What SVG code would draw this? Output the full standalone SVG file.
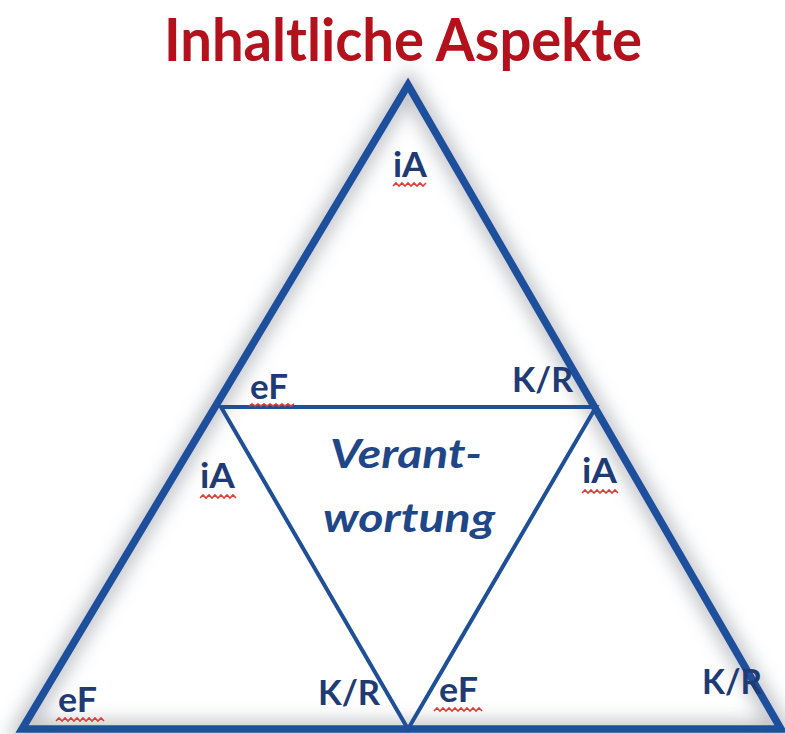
<svg xmlns="http://www.w3.org/2000/svg" width="785" height="734" viewBox="0 0 785 734">
  <defs>
    <filter id="glow" x="-20%" y="-20%" width="140%" height="140%">
      <feGaussianBlur stdDeviation="9"/>
    </filter>
    <style>
      .title { font-family: Lato, "Open Sans", "Liberation Sans", sans-serif; font-weight: bold; fill: #b3121c; }
      .lbl { font-family: Lato, "Open Sans", "Liberation Sans", sans-serif; font-weight: bold; font-size: 34px; fill: #1f3b73; }
      .mid { font-family: Lato, "Open Sans", "Liberation Sans", sans-serif; font-weight: bold; font-style: italic; font-size: 41px; fill: #1f4787; text-anchor: middle; }
      .outer { fill: none; stroke: #1e4f9c; stroke-width: 7.5; stroke-linejoin: miter; }
      .inner { fill: none; stroke: #1f4f95; stroke-width: 4; }
      .sq { fill: none; stroke: #d9403a; stroke-width: 1.6; }
    </style>
  </defs>
  <rect width="785" height="734" fill="#ffffff"/>

  <g id="title">
    <text class="title" x="403" y="61" font-size="60" text-anchor="middle" textLength="478" lengthAdjust="spacingAndGlyphs">Inhaltliche Aspekte</text>
  </g>

  <g id="shadow">
    <polygon points="408,85 22,730 781,730" fill="none" stroke="#a9acb4" stroke-width="18" filter="url(#glow)" opacity="0.75"/>
  </g>

  <g id="connectors">
    <polygon id="outer-triangle" class="outer" points="408,85 22,729 781,729"/>
    <polygon id="inner-triangle" class="inner" points="221,407 596,407 408,729"/>
  </g>

  <g id="node-top">
    <text class="lbl" x="393" y="177" textLength="34" lengthAdjust="spacingAndGlyphs">iA</text>
    <path class="sq" d="M393,186 l3,-3 l3,3 l3,-3 l3,3 l3,-3 l3,3 l3,-3 l3,3 l3,-3 l3,3 l3,-3"/>
  </g>

  <g id="node-upper-left">
    <text class="lbl" x="250" y="399" textLength="38" lengthAdjust="spacingAndGlyphs">eF</text>
    <path class="sq" d="M249,406 l3,-2 l3,2 l3,-2 l3,2 l3,-2 l3,2 l3,-2 l3,2 l3,-2 l3,2 l3,-2 l3,2 l3,-2 l3,2 l3,-2"/>
  </g>

  <g id="node-upper-right">
    <text class="lbl" x="512" y="392" textLength="61" lengthAdjust="spacingAndGlyphs">K/R</text>
  </g>

  <g id="node-left-mid">
    <text class="lbl" x="200" y="488" textLength="35" lengthAdjust="spacingAndGlyphs">iA</text>
    <path class="sq" d="M200,498 l3,-3 l3,3 l3,-3 l3,3 l3,-3 l3,3 l3,-3 l3,3 l3,-3 l3,3 l3,-3 l3,3"/>
  </g>

  <g id="node-right-mid">
    <text class="lbl" x="582" y="483" textLength="35" lengthAdjust="spacingAndGlyphs">iA</text>
    <path class="sq" d="M582,493 l3,-3 l3,3 l3,-3 l3,3 l3,-3 l3,3 l3,-3 l3,3 l3,-3 l3,3 l3,-3 l3,3"/>
  </g>

  <g id="node-center">
    <text class="mid" x="406" y="468" textLength="152" lengthAdjust="spacingAndGlyphs">Verant-</text>
    <text class="mid" x="409" y="532" textLength="172" lengthAdjust="spacingAndGlyphs">wortung</text>
  </g>

  <g id="node-bottom-left">
    <text class="lbl" x="58" y="712" textLength="39" lengthAdjust="spacingAndGlyphs">eF</text>
    <path class="sq" d="M56,721 l3,-3 l3,3 l3,-3 l3,3 l3,-3 l3,3 l3,-3 l3,3 l3,-3 l3,3 l3,-3 l3,3 l3,-3 l3,3 l3,-3 l3,3"/>
  </g>

  <g id="node-bottom-mid-left">
    <text class="lbl" x="318" y="705" textLength="62" lengthAdjust="spacingAndGlyphs">K/R</text>
  </g>

  <g id="node-bottom-mid-right">
    <text class="lbl" x="439" y="702" textLength="39" lengthAdjust="spacingAndGlyphs">eF</text>
    <path class="sq" d="M434,711 l3,-3 l3,3 l3,-3 l3,3 l3,-3 l3,3 l3,-3 l3,3 l3,-3 l3,3 l3,-3 l3,3 l3,-3 l3,3 l3,-3 l3,3"/>
  </g>

  <g id="node-bottom-right">
    <text class="lbl" x="702" y="694" textLength="60" lengthAdjust="spacingAndGlyphs">K/R</text>
  </g>
</svg>
